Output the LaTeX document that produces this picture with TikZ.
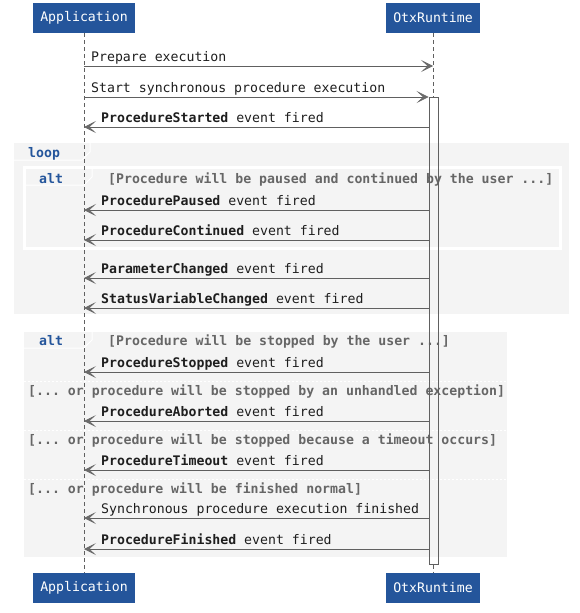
\documentclass[tikz,border=0pt]{standalone}
\usepackage{fontspec}
\setmonofont{DejaVu Sans Mono}
\usetikzlibrary{arrows.meta}
\definecolor{pblue}{HTML}{24559B}
\definecolor{fbg}{HTML}{F4F4F4}
\definecolor{lgray}{HTML}{606060}
\definecolor{agray}{HTML}{6A6A6A}
\definecolor{ggray}{HTML}{666666}
\definecolor{mtext}{HTML}{1E1E1E}
\begin{document}
\begin{tikzpicture}[x=1pt,y=-1pt,
  font=\ttfamily\fontsize{13.2}{15}\selectfont,
  part/.style={fill=pblue, text=white, minimum height=30pt, inner xsep=7.5pt, inner ysep=0pt},
  lifeline/.style={draw=lgray, dash pattern=on 4pt off 3pt, line width=0.8pt},
  msg/.style={draw=lgray, line width=1pt, -{Stealth[length=12pt,width=12pt,inset=6.5pt,line width=0.6pt,color=agray,fill=agray]}},
  mlabel/.style={anchor=base west, inner sep=0pt, text=mtext},
  guard/.style={anchor=base west, inner sep=0pt, text=ggray, font=\ttfamily\bfseries\fontsize{13.2}{15}\selectfont},
  flabel/.style={anchor=base west, inner sep=0pt, text=pblue, font=\ttfamily\bfseries\fontsize{13.2}{15}\selectfont},
  tabline/.style={draw=white, line width=1pt},
  sepline/.style={draw=white, line width=0.8pt, dash pattern=on 2pt off 2pt},
  actbar/.style={draw=lgray, line width=1pt, minimum width=9pt, minimum height=467pt, inner sep=0pt}
]
\useasboundingbox (0,0) rectangle (580,613);

% participants
\node[part] (appT) at (84,18) {Application};
\node[part] (otxT) at (433,18) {OtxRuntime};
\node[part] (appB) at (84,588) {Application};
\node[part] (otxB) at (433,588) {OtxRuntime};

% loop frame
\fill[fbg] (14,143) rectangle (569,314);
\draw[tabline] (14,160) -- (82,160) -- (90,152) -- (90,143);
\node[flabel] (loopL) at (28,157) {loop};

% inner alt frame
\draw[draw=white, line width=3pt, fill=fbg] (24,167) rectangle (560,248);
\draw[tabline] (24,185) -- (84,185) -- (92,177) -- (92,167);
\node[flabel] (alt1L) at (39,183) {alt};
\node[guard] (g1) at (108,183) {[Procedure will be paused and continued by the user ...]};

% second alt frame
\fill[fbg] (24,332) rectangle (507,557);
\draw[tabline] (24,348) -- (84,348) -- (92,340) -- (92,332);
\node[flabel] (alt2L) at (39,345) {alt};
\node[guard] (g2) at (108,345) {[Procedure will be stopped by the user ...]};
\draw[sepline] (24,381) -- (507,381);
\draw[sepline] (24,430) -- (507,430);
\draw[sepline] (24,479) -- (507,479);
\node[guard] (g3) at (28,395) {[... or procedure will be stopped by an unhandled exception]};
\node[guard] (g4) at (28,444) {[... or procedure will be stopped because a timeout occurs]};
\node[guard] (g5) at (28,493) {[... or procedure will be finished normal]};

% activation bar
\node[actbar] (act) at (433.5,330.5) {};

% lifelines
\draw[lifeline] (appT.south) -- (appB.north);
\draw[lifeline] (otxT.south) -- (act.north -| otxT.south);
\draw[lifeline] (act.south -| otxT.south) -- (otxB.north);

% messages
\draw[msg] (appT.south |- {(0,66)}) -- (otxT.south |- {(0,66)});
\node[mlabel] at (91,61.5) {Prepare execution};
\draw[msg] (appT.south |- {(0,97)}) -- (act.west |- {(0,97)});
\node[mlabel] at (91,92.5) {Start synchronous procedure execution};

\foreach \y/\t in {127/{\textbf{ProcedureStarted} event fired},
                   210/{\textbf{ProcedurePaused} event fired},
                   240/{\textbf{ProcedureContinued} event fired},
                   278/{\textbf{ParameterChanged} event fired},
                   308/{\textbf{StatusVariableChanged} event fired},
                   372/{\textbf{ProcedureStopped} event fired},
                   421/{\textbf{ProcedureAborted} event fired},
                   470/{\textbf{ProcedureTimeout} event fired},
                   518/{Synchronous procedure execution finished},
                   549/{\textbf{ProcedureFinished} event fired}}{
  \draw[msg] (act.west |- {(0,\y)}) -- (appT.south |- {(0,\y)});
  \node[mlabel] at (101,\y-4.5) {\t};
}
\end{tikzpicture}
\end{document}
